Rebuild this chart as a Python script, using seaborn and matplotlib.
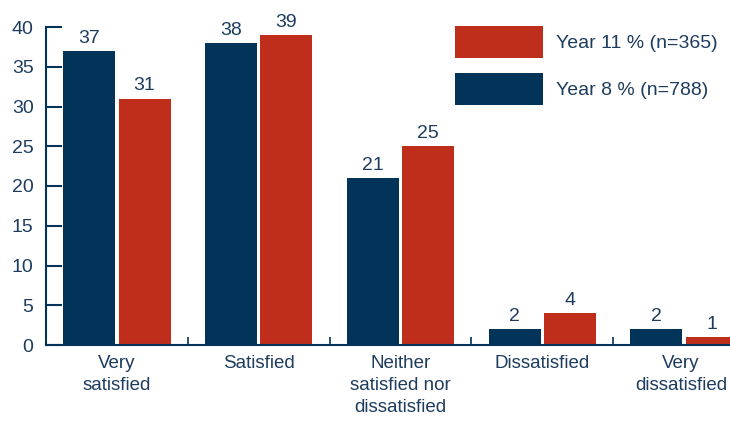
import matplotlib
matplotlib.use("Agg")
import matplotlib.pyplot as plt
from matplotlib.patches import Patch
from matplotlib.transforms import ScaledTranslation
import seaborn as sns
import pandas as pd

categories = ["Very\nsatisfied", "Satisfied", "Neither\nsatisfied nor\ndissatisfied",
              "Dissatisfied", "Very\ndissatisfied"]
year8 = [37, 38, 21, 2, 2]
year11 = [31, 39, 25, 4, 1]
series_labels = ["Year 8 % (n=788)", "Year 11 % (n=365)"]
y_ticks = [0, 5, 10, 15, 20, 25, 30, 35, 40]

NAVY = "#023459"
RED = "#BF2E1B"
TEXT = "#1D3C5E"
FS = 14

df = pd.DataFrame({
    "category": categories * 2,
    "value": year8 + year11,
    "series": [series_labels[0]] * len(categories) + [series_labels[1]] * len(categories),
})

sns.set_style("white")
plt.rcParams["font.family"] = ["Liberation Sans", "DejaVu Sans"]

fig = plt.figure(figsize=(7.3, 4.21), dpi=100)
ax = fig.add_axes([46 / 730, 76 / 421, 684 / 730, 318 / 421])

sns.barplot(data=df, x="category", y="value", hue="series",
            hue_order=series_labels, order=categories,
            palette=[NAVY, RED], width=0.78, gap=0.06, linewidth=0,
            saturation=1, errorbar=None, ax=ax, legend=False)

for container in ax.containers:
    ax.bar_label(container, fmt="%g", padding=3, fontsize=FS, color=TEXT)

ax.set_ylim(0, 40)
ax.set_xlim(-0.5, 4.325)
ax.set_yticks(y_ticks)
ax.set_xlabel("")
ax.set_ylabel("")

for side in ["top", "right"]:
    ax.spines[side].set_visible(False)
for side in ["left", "bottom"]:
    ax.spines[side].set_color(NAVY)
    ax.spines[side].set_linewidth(1.5)

ax.tick_params(axis="y", direction="in", length=11.5, width=1.5, color=NAVY,
               labelsize=FS, labelcolor=TEXT, pad=9, left=True)
ax.tick_params(axis="x", which="major", length=0, labelsize=13.5, labelcolor=TEXT, pad=7)
ax.set_xticks([0.5, 1.5, 2.5, 3.5], minor=True)
ax.tick_params(axis="x", which="minor", direction="in", length=6, width=1.2,
               color=NAVY, bottom=True)
xlabels = ax.get_xticklabels()
for lbl in xlabels:
    lbl.set_linespacing(1.4)
# keep the last category label inside the figure edge
xlabels[-1].set_transform(xlabels[-1].get_transform()
                          + ScaledTranslation(-3 / 100, 0, fig.dpi_scale_trans))

handles = [Patch(facecolor=RED, edgecolor="none"), Patch(facecolor=NAVY, edgecolor="none")]
leg = ax.legend(handles, [series_labels[1], series_labels[0]],
                loc="upper left", bbox_to_anchor=(0.598, 1.003), frameon=False,
                borderpad=0, borderaxespad=0,
                handlelength=4.53, handleheight=2.155, handletextpad=0.67,
                labelspacing=0.77, fontsize=FS, labelcolor=TEXT)

fig.savefig("out.png", dpi=100)
